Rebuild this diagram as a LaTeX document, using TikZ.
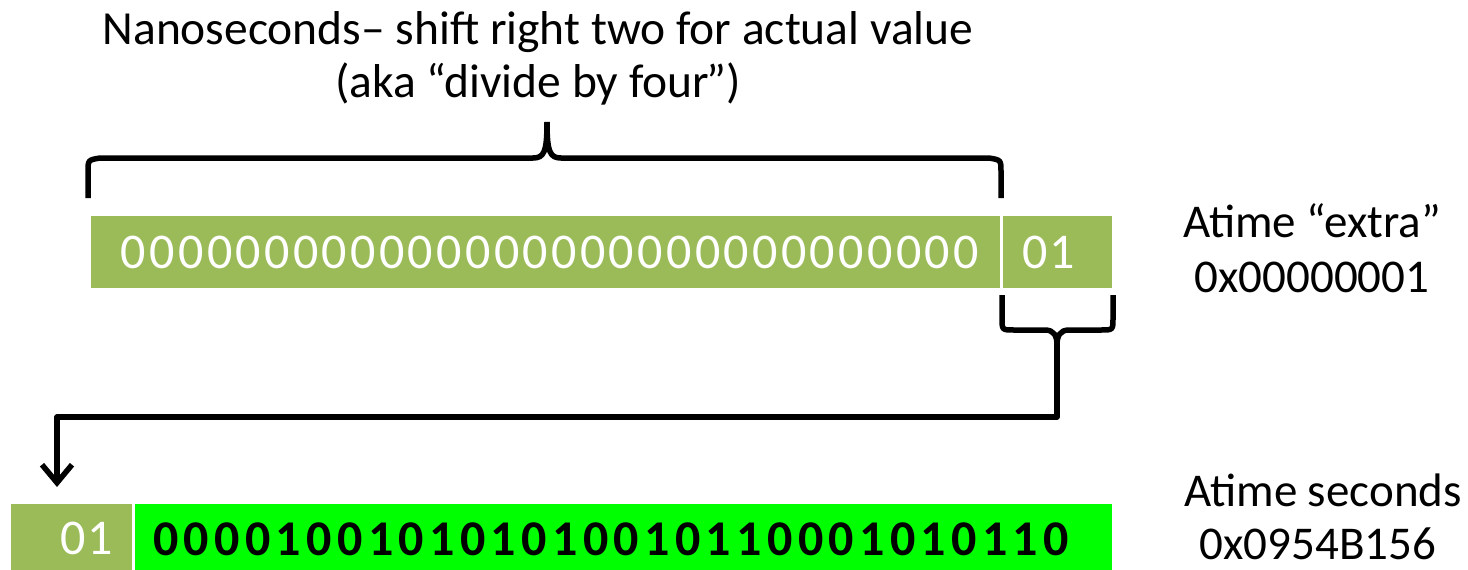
\documentclass[tikz,border=0pt]{standalone}
\usepackage{fontspec}
\setmainfont{Carlito}
\usetikzlibrary{arrows.meta}
\definecolor{olivebar}{HTML}{9BBB59}
\definecolor{brightgreen}{HTML}{00FF00}
\newlength\digpitch
\def\digs#1{\ifx#1\relax\else\makebox[\digpitch]{#1}\expandafter\digs\fi}
\begin{document}
\begin{tikzpicture}[x=1pt,y=-1pt,
  bracepath/.style={line width=5.5pt,line join=round,line cap=butt,black},
  label/.style={inner sep=0,anchor=base,font=\fontsize{47.5}{56}\selectfont},
  rlabel/.style={inner sep=0,anchor=base,font=\fontsize{47}{56}\selectfont},
  whitedig/.style={inner sep=0,text=white,font=\fontsize{50}{54}\selectfont},
  blackdig/.style={inner sep=0,text=black,font=\bfseries\fontsize{50}{54}\selectfont}]
\useasboundingbox (0,0) rectangle (1468,570);
% bars
\fill[olivebar] (91,216) rectangle (1000,288);
\fill[olivebar] (1003,216) rectangle (1112,288);
\fill[olivebar] (11,504) rectangle (132,570);
\fill[brightgreen] (135,504) rectangle (1112,570);
% digits
\node[whitedig] (topbits) at (549.75,252) {\setlength\digpitch{28.7pt}\digs 000000000000000000000000000000\relax};
\node[whitedig] (topextra) at (1048.5,252) {\setlength\digpitch{27pt}\digs 01\relax};
\node[whitedig] (botextra) at (87,538) {\setlength\digpitch{27pt}\digs 01\relax};
\node[blackdig] (botbits) at (611,539) {\setlength\digpitch{30.7pt}\digs 000010010101010010110001010110\relax};
% title
\node[label] (t1) at (538,44) {Nanoseconds– shift right two for actual value};
\node[label] (t2) at (538,97) {(aka “divide by four\kern-3pt”)};
% right labels
\node[rlabel] (r1) at (1312,237) {Atime “extra”};
\node[rlabel] (r2) at (1312,292) {0x00000001};
\node[rlabel] (r3) at (1323,506) {Atime seconds};
\node[rlabel] (r4) at (1318,559) {0x0954B156};
% top brace
\draw[bracepath] (88,198) -- (88,172) .. controls (88,160) .. (100,158) -- (533,158)
   .. controls (544,158) and (547,152) .. (547,122);
\draw[bracepath] (547,122) .. controls (547,152) and (550,158) .. (561,158) -- (989,158)
   .. controls (1001,160) .. (1001,172) -- (1001,198);
% lower brace
\coordinate (ltip) at (1057,345);
\draw[bracepath] (1002,295) -- (1002,318) .. controls (1002,330) .. (1014,330) -- (1045,330)
   .. controls (1054,330) and (1057,336) .. (ltip);
\draw[bracepath] (1113,295) -- (1113,318) .. controls (1113,330) .. (1101,330) -- (1069,330)
   .. controls (1060,330) and (1057,336) .. (ltip);
\coordinate (arrowend) at (57,487);
\draw[bracepath,-{Straight Barb[length=18pt,width=30pt]}] (ltip) -- (1057,417) -- (57,417) -- (arrowend);
\end{tikzpicture}
\end{document}
